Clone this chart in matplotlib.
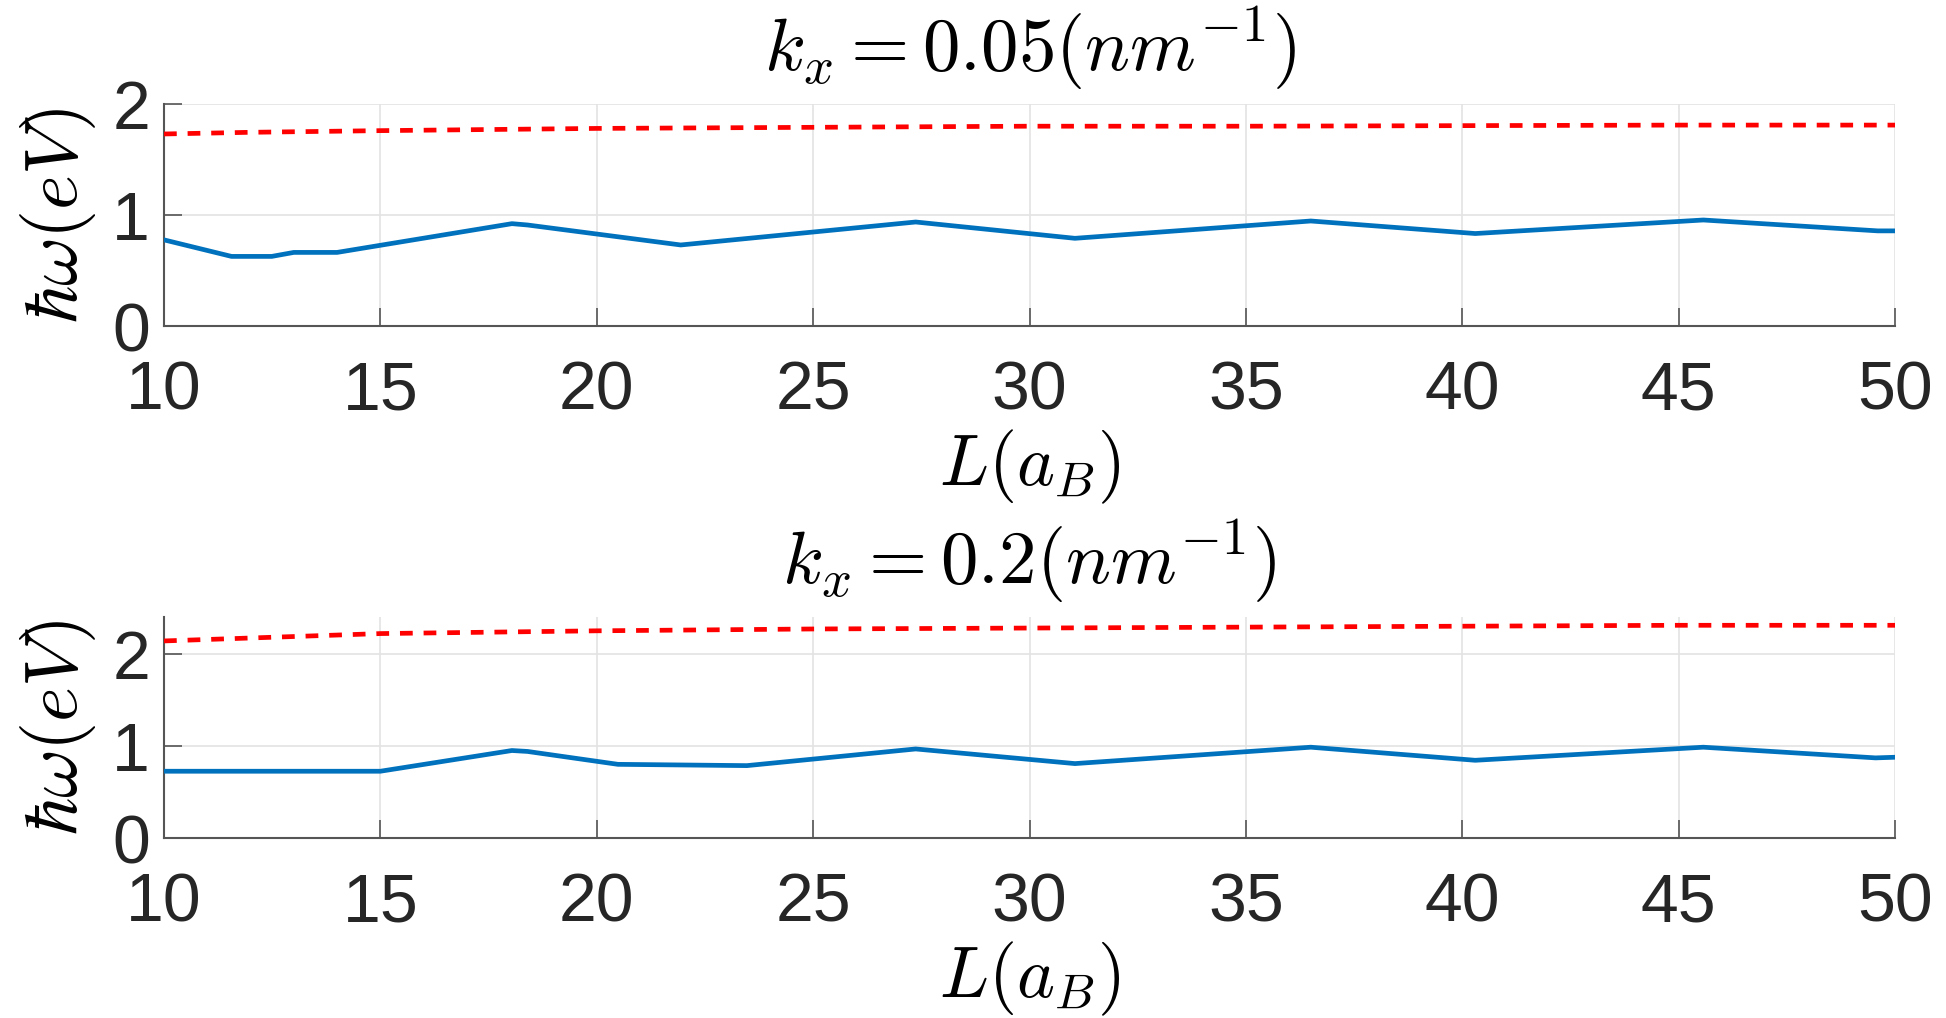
import numpy as np
import matplotlib
matplotlib.use("Agg")
import matplotlib.pyplot as plt

plt.rcParams['mathtext.fontset'] = 'cm'
plt.rcParams['font.family'] = ['Liberation Sans', 'DejaVu Sans']

# ---- data ----
L_blue1 = [10, 11.56, 12.49, 13.0, 14.0, 18.04, 18.4, 21.94, 27.37, 31.05, 36.5, 40.3, 45.57, 49.6, 50]
w_blue1 = [0.776, 0.627, 0.627, 0.663, 0.663, 0.922, 0.91, 0.73, 0.937, 0.79, 0.946, 0.833, 0.955, 0.857, 0.857]
L_red1 = [10, 12, 15, 20, 25, 30, 35, 40, 45, 50]
w_red1 = [1.73, 1.745, 1.76, 1.78, 1.79, 1.80, 1.80, 1.805, 1.81, 1.81]

L_blue2 = [10, 15, 18.04, 18.4, 20.49, 23.47, 27.37, 31.05, 36.5, 40.3, 45.57, 49.55, 50]
w_blue2 = [0.725, 0.725, 0.95, 0.94, 0.80, 0.786, 0.967, 0.808, 0.986, 0.844, 0.986, 0.87, 0.877]
L_red2 = [10, 15, 20, 25, 30, 35, 40, 45, 50]
w_red2 = [2.14, 2.22, 2.25, 2.27, 2.28, 2.29, 2.30, 2.31, 2.31]

titles = [r'$k_x = 0.05(nm^{-1})$', r'$k_x = 0.2(nm^{-1})$']
ylims = [(0, 2), (0, 2.4)]
yticks = [[0, 1, 2], [0, 1, 2]]
xticks = [10, 15, 20, 25, 30, 35, 40, 45, 50]

W, H = 1946, 1018
fig = plt.figure(figsize=(W / 100, H / 100), dpi=100)

boxes = [(164, 104, 1895, 326), (164, 617, 1895, 838)]
series = [(L_blue1, w_blue1, L_red1, w_red1), (L_blue2, w_blue2, L_red2, w_red2)]

for i, (box, s) in enumerate(zip(boxes, series)):
    l, t, r, b = box
    ax = fig.add_axes([l / W, (H - b) / H, (r - l) / W, (b - t) / H])
    lb, wb, lr, wr = s
    ax.plot(lr, wr, color='#FF0000', lw=3.4, ls=(0, (2.7, 2.3)), zorder=3)
    ax.plot(lb, wb, color='#0072BD', lw=3.4, zorder=3)
    ax.set_xlim(10, 50)
    ax.set_ylim(*ylims[i])
    ax.set_xticks(xticks)
    ax.set_yticks(yticks[i])
    ax.grid(True, color='#e3e3e3', lw=1.2)
    ax.set_axisbelow(True)
    for sp in ['top', 'right']:
        ax.spines[sp].set_visible(False)
    for sp in ['left', 'bottom']:
        ax.spines[sp].set_color('#555555')
        ax.spines[sp].set_linewidth(1.5)
    ax.tick_params(direction='in', length=13, width=1.2, colors='#555555',
                   labelcolor='#262626', labelsize=49)
    ax.tick_params(axis='x', pad=24)
    ax.tick_params(axis='y', pad=10)
    ax.set_title(titles[i], fontsize=54, pad=24, color='#000000')
    ax.set_xlabel(r'$L(a_B)$', fontsize=52, labelpad=3)
    ax.set_ylabel(r'$\hbar\omega(eV)$', fontsize=54, labelpad=10)

fig.savefig('out.png', dpi=100)
